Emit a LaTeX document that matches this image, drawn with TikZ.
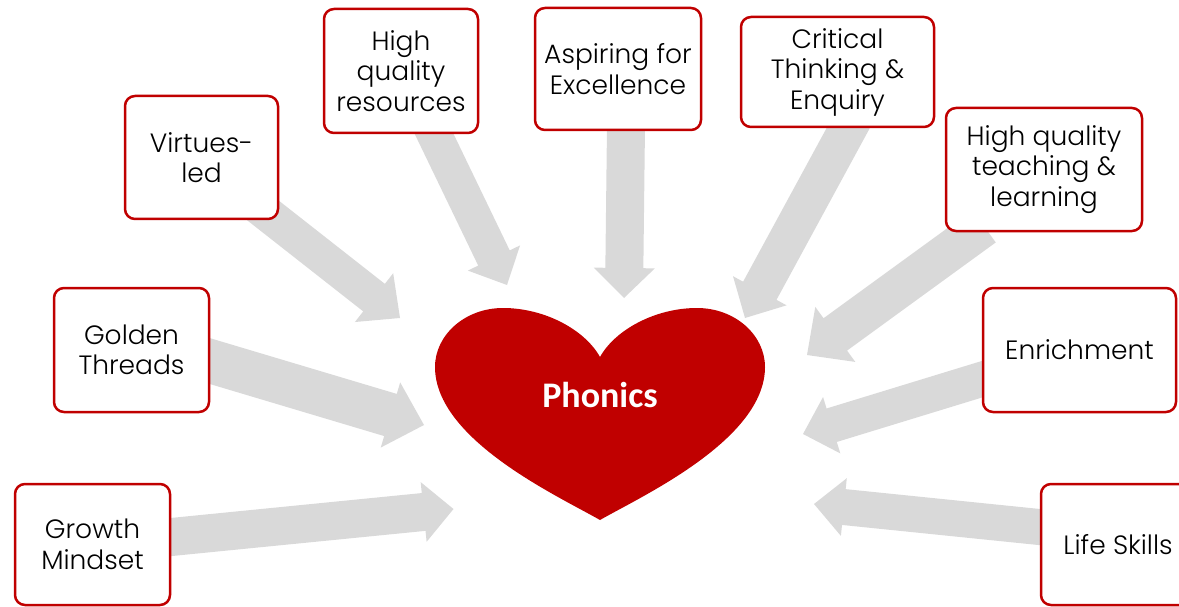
\documentclass[tikz,border=0pt]{standalone}
\usepackage{fontspec}
\setmainfont{Poppins}[UprightFont=* Light]
\newfontfamily\phonfont{Carlito}
\usetikzlibrary{calc}
\definecolor{boxred}{HTML}{C00000}
\definecolor{heartred}{HTML}{C00000}
\definecolor{arrowgray}{HTML}{D9D9D9}
\pgfdeclarelayer{bg}
\pgfsetlayers{bg,main}
\tikzset{
  item/.style={draw=boxred, line width=2.5pt, fill=white, rounded corners=10pt,
    align=center, inner sep=0pt, text=black, font=\fontsize{26.5}{30.5}\selectfont},
  blockarrow/.style={fill=arrowgray, draw=none},
  heartlabel/.style={text=white, anchor=base, font=\phonfont\bfseries\fontsize{36}{40}\selectfont}
}
% #1 start, #2 tip, #3 shaft half width, #4 head half width, #5 head length
\newcommand\blockarr[5]{%
  \coordinate (tmpB) at ($(#2)!#5!(#1)$);
  \fill[blockarrow] ($(#1)!#3!90:(#2)$) -- ($(tmpB)!#3!90:(#2)$) -- ($(tmpB)!#4!90:(#2)$)
    -- (#2) -- ($(tmpB)!#4!-90:(#2)$) -- ($(tmpB)!#3!-90:(#2)$) -- ($(#1)!#3!-90:(#2)$) -- cycle;
}
\begin{document}
\begin{tikzpicture}[x=1pt,y=-1pt]
\useasboundingbox (0,0) rectangle (1179,607);

% boxes
\node[item, minimum width=153pt, minimum height=123pt] (virt) at (201.5,157.5) {Virtues-\\led};
\node[item, minimum width=154pt, minimum height=124pt] (hqr) at (401,71) {High\\quality\\resources};
\node[item, minimum width=166pt, minimum height=122pt] (asp) at (618,69) {Aspiring for\\Excellence};
\node[item, minimum width=193pt, minimum height=110pt] (crit) at (837.5,72) {Critical\\Thinking \&\\Enquiry};
\node[item, minimum width=196pt, minimum height=123pt] (hqt) at (1044,169.5) {High quality\\teaching \&\\learning};
\node[item, minimum width=155pt, minimum height=124pt] (gold) at (131.5,350) {Golden\\Threads};
\node[item, minimum width=155pt, minimum height=121pt] (grow) at (92.5,544.5) {Growth\\Mindset};
\node[item, minimum width=193pt, minimum height=124pt] (enr) at (1079.5,350) {Enrichment};
\node[item, minimum width=154pt, minimum height=121pt] (life) at (1118,544.5) {Life Skills};

% heart
\fill[heartred] (600,520) .. controls (560,497) and (435,440) .. (435,367)
  .. controls (435,335) and (465,308) .. (503,308)
  .. controls (545,308) and (585,330) .. (600,357)
  .. controls (615,330) and (655,308) .. (697,308)
  .. controls (735,308) and (765,335) .. (765,367)
  .. controls (765,440) and (640,497) .. (600,520) -- cycle;
\node[heartlabel] (heart) at (600,407) {Phonics};

% arrow ends
\coordinate (virtS) at ([shift={(-28,-19)}]virt.south east);
\coordinate (hqrS) at ([shift={(27,-13)}]hqr.south);
\coordinate (aspS) at ([shift={(8,-5)}]asp.south);
\coordinate (critS) at ([shift={(15.5,-9)}]crit.south);
\coordinate (hqtS) at ([shift={(-60,-6)}]hqt.south);
\coordinate (goldS) at ([shift={(-14,7)}]gold.east);
\coordinate (growS) at ([shift={(-15,-6)}]grow.east);
\coordinate (enrS) at ([shift={(14,25)}]enr.west);
\coordinate (lifeS) at ([shift={(14,-16)}]life.west);

\coordinate (virtT) at (400,318);
\coordinate (hqrT) at (507,285);
\coordinate (aspT) at (624,298);
\coordinate (critT) at (745,318);
\coordinate (hqtT) at (807,355);
\coordinate (goldT) at (424,425);
\coordinate (growT) at (453.5,509);
\coordinate (enrT) at (803,434);
\coordinate (lifeT) at (814,504);

\begin{pgfonlayer}{bg}
\blockarr{virtS}{virtT}{17.5pt}{31pt}{33pt}
\blockarr{hqrS}{hqrT}{17.5pt}{29pt}{30pt}
\blockarr{aspS}{aspT}{19pt}{30.5pt}{30pt}
\blockarr{critS}{critT}{19pt}{30.5pt}{31pt}
\blockarr{hqtS}{hqtT}{20pt}{34pt}{35pt}
\blockarr{goldS}{goldT}{22pt}{34pt}{35pt}
\blockarr{growS}{growT}{19pt}{30pt}{30pt}
\blockarr{enrS}{enrT}{17.5pt}{29.5pt}{30pt}
\blockarr{lifeS}{lifeT}{18pt}{29pt}{30pt}
\end{pgfonlayer}
\end{tikzpicture}
\end{document}
